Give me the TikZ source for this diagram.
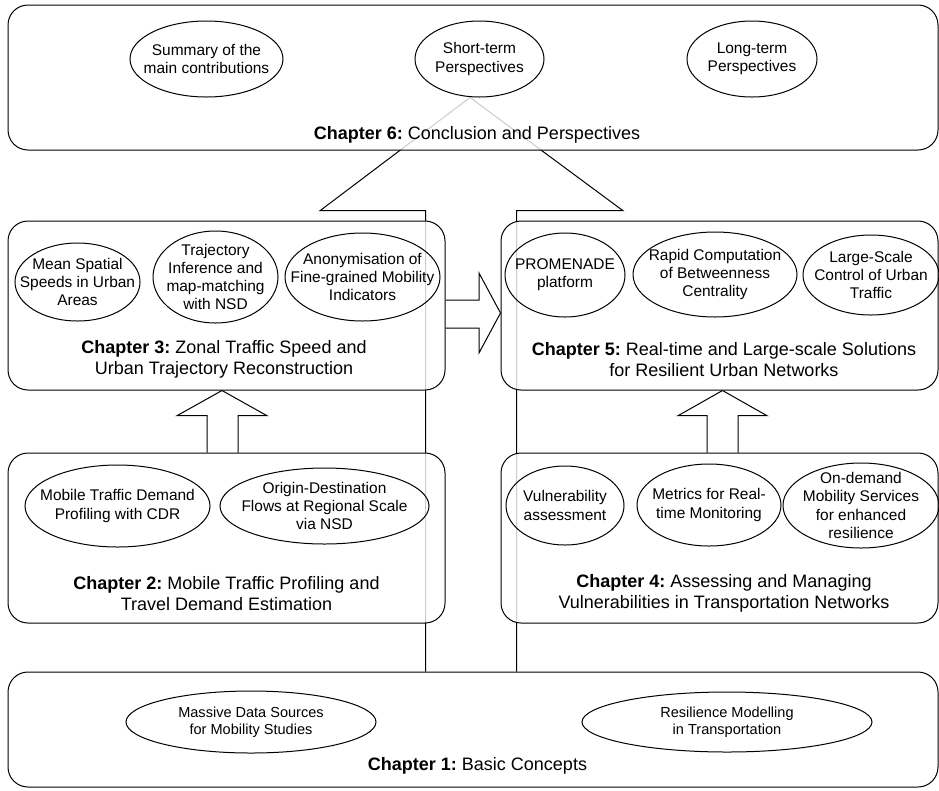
\documentclass[tikz,border=0pt]{standalone}
\usepackage{fontspec}
\setmainfont{Liberation Sans}
\usetikzlibrary{shapes.geometric,backgrounds}
\frenchspacing

\begin{document}
\begin{tikzpicture}[x=0.75pt,y=-0.75pt,
  chap/.style={draw, rounded corners=15pt, fill=white, fill opacity=0.8, inner sep=0pt, line width=0.75pt},
  chaptitle/.style={align=center, font=\fontsize{13.5}{15.5}\selectfont, inner sep=0pt},
  topic/.style={draw, ellipse, inner sep=0pt, line width=0.75pt},
  topictext/.style={align=center, font=\fontsize{11.6}{13.7}\selectfont, inner sep=0pt},
  basictext/.style={align=center, font=\fontsize{10.9}{12.5}\selectfont, inner sep=0pt},
  hollow/.style={draw, line width=0.75pt, line join=miter}]
  \useasboundingbox (0,0) rectangle (939,790);

  \node[chap, minimum width=697.5pt, minimum height=108.75pt] (ch6) at (473,77.5) {};
  \node[chap, minimum width=327.75pt, minimum height=126.75pt] (ch3) at (226.5,305.5) {};
  \node[chap, minimum width=327.75pt, minimum height=126.75pt] (ch5) at (719.5,305.5) {};
  \node[chap, minimum width=327.75pt, minimum height=127.5pt] (ch2) at (226.5,538) {};
  \node[chap, minimum width=327.75pt, minimum height=127.5pt] (ch4) at (719.5,538) {};
  \node[chap, minimum width=697.5pt, minimum height=86.25pt] (ch1) at (473,729.5) {};

  \node[topic, minimum width=114.75pt, minimum height=57pt,
    label={[topictext]center:{Summary of the\\main contributions}}] (sum) at (206.5,59) {};
  \node[topic, minimum width=96.75pt, minimum height=57pt,
    label={[topictext]center:{Short-term\\Perspectives}}] (st) at (479.5,59) {};
  \node[topic, minimum width=97.5pt, minimum height=57pt,
    label={[topictext]center:{Long-term\\Perspectives}}] (lt) at (752,59) {};

  \node[topic, minimum width=93.75pt, minimum height=58.5pt,
    label={[topictext]center:{Mean Spatial\\Speeds in Urban\\Areas}}] (msp) at (77.5,282) {};
  \node[topic, minimum width=93.75pt, minimum height=69pt,
    label={[topictext]center:{Trajectory\\Inference and\\map-matching\\with NSD}}] (tri) at (215.5,277) {};
  \node[topic, minimum width=116.25pt, minimum height=66pt,
    label={[topictext]center:{Anonymisation of\\Fine-grained Mobility\\Indicators}}] (ano) at (362.5,277) {};

  \node[topic, minimum width=90pt, minimum height=63pt,
    label={[topictext]center:{PROMENADE\\platform}}] (prom) at (565,275) {};
  \node[topic, minimum width=123pt, minimum height=63.75pt,
    label={[topictext]center:{Rapid Computation\\of Betweenness\\Centrality}}] (rcb) at (715,274.5) {};
  \node[topic, minimum width=102pt, minimum height=60pt,
    label={[topictext]center:{Large-Scale\\Control of Urban\\Traffic}}] (lsc) at (871,275) {};

  \node[topic, minimum width=138.75pt, minimum height=61.5pt,
    label={[topictext]center:{Mobile Traffic Demand\\Profiling with CDR}}] (mtd) at (117.5,506) {};
  \node[topic, minimum width=156.75pt, minimum height=57pt,
    label={[topictext]center:{Origin-Destination\\Flows at Regional Scale\\via NSD}}] (od) at (324.5,506) {};

  \node[topic, minimum width=88.5pt, minimum height=59.25pt,
    label={[topictext]center:{Vulnerability\\assessment}}] (vul) at (565,505.5) {};
  \node[topic, minimum width=108pt, minimum height=61.5pt,
    label={[topictext]center:{Metrics for Real-\\time Monitoring}}] (met) at (709,505) {};
  \node[topic, minimum width=117pt, minimum height=63.75pt,
    label={[topictext]center:{On-demand\\Mobility Services\\for enhanced\\resilience}}] (ond) at (861,505.5) {};

  \node[topic, minimum width=187.5pt, minimum height=46.5pt,
    label={[basictext]center:{Massive Data Sources\\for Mobility Studies}}] (mds) at (251,722) {};
  \node[topic, minimum width=217.5pt, minimum height=45pt,
    label={[basictext]center:{Resilience Modelling\\in Transportation}}] (rmt) at (727,722) {};

  \node[chaptitle] (t6) at (477,135) {\textbf{Chapter 6:} Conclusion and Perspectives};
  \node[chaptitle] (t3) at (224,359.5) {\textbf{Chapter 3:} Zonal Traffic Speed and\\Urban Trajectory Reconstruction};
  \node[chaptitle] (t5) at (724,359.5) {\textbf{Chapter 5:} Real-time and Large-scale Solutions\\for Resilient Urban Networks};
  \node[chaptitle] (t2) at (226.5,593.5) {\textbf{Chapter 2:} Mobile Traffic Profiling and\\Travel Demand Estimation};
  \node[chaptitle] (t4) at (724,593.5) {\textbf{Chapter 4:} Assessing and Managing\\Vulnerabilities in Transportation Networks};
  \node[chaptitle] (t1) at (477.5,766) {\textbf{Chapter 1:} Basic Concepts};

  \begin{scope}[on background layer]
    \draw[hollow] (425.7,0 |- ch1.north) -- (425.7,210.7) -- (320,210.7) -- (470,0 |- st.south)
      -- (623,210.7) -- (516.7,210.7) -- (516.7,0 |- ch1.north);
    \draw[hollow] (207,0 |- ch2.north) -- (207,415.7) -- (177,415.7) -- (222,0 |- ch3.south)
      -- (267,415.7) -- (238,415.7) -- (238,0 |- ch2.north);
    \draw[hollow] (707,0 |- ch4.north) -- (707,415.7) -- (678,415.7) -- (722.5,0 |- ch5.south)
      -- (767,415.7) -- (738,415.7) -- (738,0 |- ch4.north);
    \draw[hollow] (ch3.east |- 0,300) -- (479,300) -- (479,273) -- (ch5.west |- 0,313)
      -- (479,353) -- (479,328) -- (ch3.east |- 0,328);
  \end{scope}
\end{tikzpicture}
\end{document}
